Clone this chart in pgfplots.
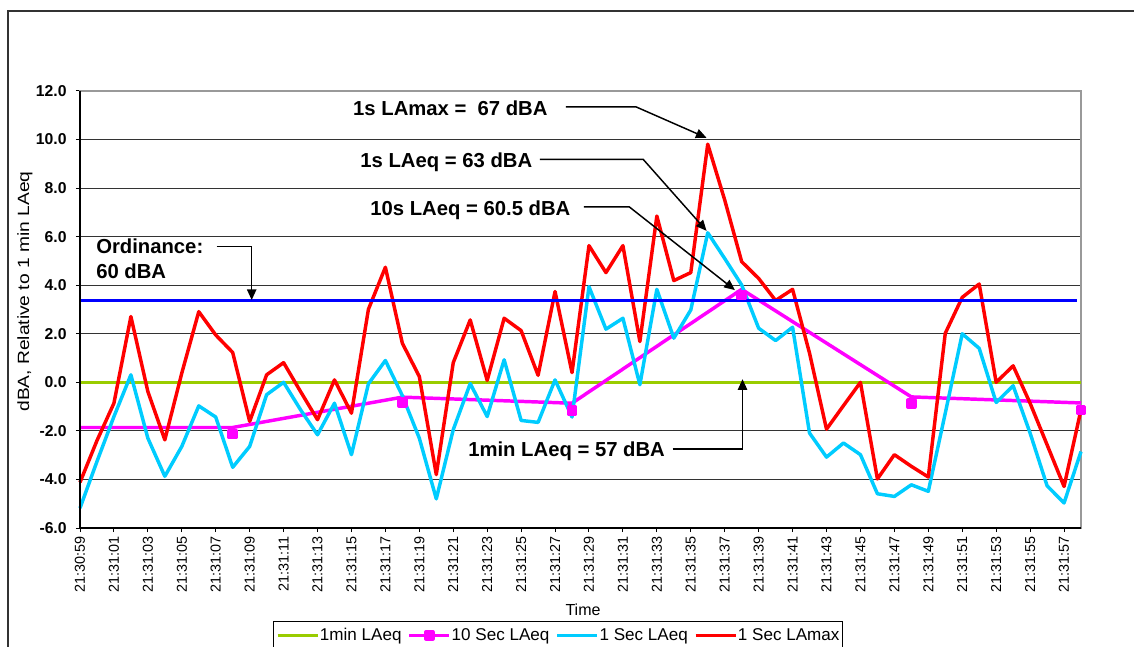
\documentclass[border=0pt]{standalone}
\usepackage{pgfplots}
\pgfplotsset{compat=1.18}
\usepackage{fontspec}
\setmainfont{Liberation Sans}
\usetikzlibrary{arrows.meta}
\definecolor{cgreen}{RGB}{153,204,0}
\definecolor{cmag}{RGB}{255,0,255}
\definecolor{ccyan}{RGB}{0,204,255}
\definecolor{cred}{RGB}{255,0,0}
\definecolor{cblue}{RGB}{0,0,255}
\begin{document}
\begin{tikzpicture}
\path[use as bounding box] (0,0) rectangle (850.5pt,484.5pt);
\clip (0,0) rectangle (850.5pt,484.5pt);
\draw[black!80, line width=1.1pt] (6pt,-5pt) -- (6pt,476.25pt) -- (860pt,476.25pt);
\begin{axis}[
  at={(60pt,88.5pt)}, anchor=south west,
  scale only axis, width=750.75pt, height=327.75pt,
  xmin=0, xmax=59, ymin=-6, ymax=12,
  ytick={-6,-4,...,12},
  xtick={0,2,...,58},
  xticklabels={21:30:59,21:31:01,21:31:03,21:31:05,21:31:07,21:31:09,21:31:11,21:31:13,21:31:15,21:31:17,21:31:19,21:31:21,21:31:23,21:31:25,21:31:27,21:31:29,21:31:31,21:31:33,21:31:35,21:31:37,21:31:39,21:31:41,21:31:43,21:31:45,21:31:47,21:31:49,21:31:51,21:31:53,21:31:55,21:31:57},
  xticklabel style={rotate=90, anchor=east, font=\fontsize{10.8}{12}\selectfont},
  yticklabel style={font=\bfseries\fontsize{11.8}{13}\selectfont, xshift=-3.5pt},
  /pgf/number format/.cd, fixed, fixed zerofill, precision=1, assume math mode=true,
  /pgfplots/.cd,
  tick align=outside, tick pos=left, major tick length=3pt,
  tick style={black, line width=0.75pt},
  ymajorgrids, major grid style={black!80, line width=0.75pt},
  axis line style={draw=black!40, line width=1.2pt},
  xlabel={Time},
  xlabel style={at={(axis description cs:0.5025,-0.188)}, anchor=center, font=\fontsize{12}{14}\selectfont},
  ylabel={\scalebox{1.18}[1]{dBA, Relative to 1 min LAeq}},
  ylabel style={at={(axis description cs:-0.055,0.541)}, anchor=center, font=\fontsize{12.2}{14}\selectfont},
  legend columns=4,
  legend style={at={(0.1925,-0.2128)}, anchor=north west, draw=black, line width=0.75pt,
    font=\fontsize{12.8}{15}\selectfont, inner xsep=2pt, inner ysep=3pt,
    /tikz/every even column/.append style={column sep=4pt},
    nodes={inner xsep=0.5pt}},
  legend image code/.code={\draw[#1, mark repeat=2, mark phase=2] plot coordinates {(0pt,0pt) (15pt,0pt) (30pt,0pt)};},
  clip=false,
  every axis plot/.append style={line width=2.6pt, line join=round},
]
\addplot[cgreen, no marks] coordinates {(0,0) (59,0)};
\addlegendentry{1min LAeq}
\addlegendimage{cmag, line width=2.6pt, mark=square*, mark size=2.6pt, mark options={solid}}
\addlegendentry{10 Sec LAeq}
\addplot[cmag, no marks, forget plot] coordinates {(0,-1.86) (9,-1.86) (19,-0.61) (29,-0.86) (39,3.83) (49,-0.6) (59,-0.85)};
\addplot[cmag, only marks, mark=square*, mark size=2.6pt, forget plot] coordinates {(9,-2.13) (19,-0.83) (29,-1.16) (39,3.6) (49,-0.88) (59,-1.13)};
\addplot[ccyan, no marks] table[row sep=\\] {
x y\\
0 -5.18\\ 1 -3.26\\ 2 -1.41\\ 3 0.31\\ 4 -2.30\\ 5 -3.87\\ 6 -2.64\\ 7 -0.97\\ 8 -1.43\\ 9 -3.50\\
10 -2.64\\ 11 -0.51\\ 12 0.00\\ 13 -1.13\\ 14 -2.16\\ 15 -0.86\\ 16 -2.98\\ 17 -0.06\\ 18 0.90\\ 19 -0.55\\
20 -2.30\\ 21 -4.80\\ 22 -1.95\\ 23 -0.05\\ 24 -1.41\\ 25 0.93\\ 26 -1.57\\ 27 -1.65\\ 28 0.10\\ 29 -1.43\\
30 3.94\\ 31 2.19\\ 32 2.64\\ 33 -0.10\\ 34 3.83\\ 35 1.82\\ 36 2.98\\ 37 6.16\\ 38 5.10\\ 39 4.01\\
40 2.23\\ 41 1.72\\ 42 2.27\\ 43 -2.09\\ 44 -3.08\\ 45 -2.50\\ 46 -2.98\\ 47 -4.59\\ 48 -4.70\\ 49 -4.22\\
50 -4.49\\ 51 -1.27\\ 52 2.00\\ 53 1.40\\ 54 -0.83\\ 55 -0.14\\ 56 -2.09\\ 57 -4.26\\ 58 -4.97\\ 59 -2.85\\
};
\addlegendentry{1 Sec LAeq}
\addplot[cred, no marks] table[row sep=\\] {
x y\\
0 -4.12\\ 1 -2.40\\ 2 -0.86\\ 3 2.71\\ 4 -0.38\\ 5 -2.37\\ 6 0.38\\ 7 2.91\\ 8 1.95\\ 9 1.23\\
10 -1.61\\ 11 0.31\\ 12 0.81\\ 13 -0.38\\ 14 -1.54\\ 15 0.10\\ 16 -1.27\\ 17 3.01\\ 18 4.74\\ 19 1.61\\
20 0.24\\ 21 -3.80\\ 22 0.81\\ 23 2.57\\ 24 0.08\\ 25 2.64\\ 26 2.13\\ 27 0.29\\ 28 3.74\\ 29 0.40\\
30 5.63\\ 31 4.52\\ 32 5.63\\ 33 1.68\\ 34 6.85\\ 35 4.19\\ 36 4.52\\ 37 9.81\\ 38 7.51\\ 39 4.97\\
40 4.28\\ 41 3.37\\ 42 3.83\\ 43 1.20\\ 44 -1.93\\ 45 -0.96\\ 46 0.00\\ 47 -3.98\\ 48 -2.98\\ 49 -3.46\\
50 -3.90\\ 51 2.02\\ 52 3.50\\ 53 4.05\\ 54 0.00\\ 55 0.68\\ 56 -0.86\\ 57 -2.57\\ 58 -4.29\\ 59 -1.13\\
};
\addlegendentry{1 Sec LAmax}
\addplot[cblue, no marks, forget plot] coordinates {(0,3.37) (58.75,3.37)};
% annotations
\begin{scope}[font=\bfseries\fontsize{15.2}{18}\selectfont]
\node[anchor=base] at (axis cs:21.83,10.99) {1s LAmax =\ \ 67 dBA};
\node[anchor=base] at (axis cs:21.59,8.85) {1s LAeq = 63 dBA};
\node[anchor=base] at (axis cs:23.01,6.86) {10s LAeq = 60.5 dBA};
\node[anchor=base] at (axis cs:28.68,-3.05) {1min LAeq = 57 dBA};
\node[anchor=base west, inner sep=0pt] at (axis cs:0.943,5.31) {Ordinance:};
\node[anchor=base west, inner sep=0pt] at (axis cs:0.943,4.26) {60 dBA};
\end{scope}
\begin{scope}[line width=1.1pt, black, -{Triangle[length=8pt,width=7pt]}]
\draw (axis cs:28.64,11.35) -- (axis cs:32.76,11.35) -- (axis cs:36.93,10.07);
\draw (axis cs:27.11,9.18) -- (axis cs:33.2,9.18) -- (axis cs:36.93,6.24);
\draw (axis cs:29.7,7.23) -- (axis cs:32.37,7.23) -- (axis cs:38.6,3.8);
\draw (axis cs:34.93,-2.75) -- (axis cs:39.05,-2.75) -- (axis cs:39.05,0.13);
\draw (axis cs:8.06,5.59) -- (axis cs:10.12,5.59) -- (axis cs:10.12,3.39);
\end{scope}
\draw[black, line width=1.2pt] (rel axis cs:0,1) -- (rel axis cs:0,0) -- (rel axis cs:1,0);
\end{axis}
\end{tikzpicture}
\end{document}
